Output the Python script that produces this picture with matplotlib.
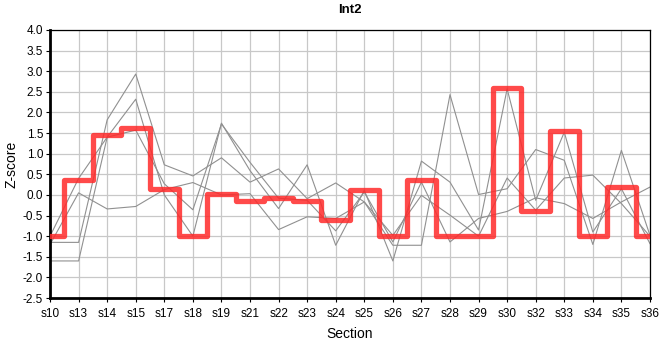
import numpy as np
import matplotlib
matplotlib.use("Agg")
import matplotlib.pyplot as plt

plt.rcParams['font.family'] = ['Liberation Sans', 'DejaVu Sans']

# Abschnitte und Z-Scores
sections = ["s10", "s13", "s14", "s15", "s17", "s18", "s19", "s21", "s22", "s23", "s24",
            "s25", "s26", "s27", "s28", "s29", "s30", "s32", "s33", "s34", "s35", "s36"]

int2 = [-1.0, 0.35, 1.45, 1.62, 0.15, -1.0, 0.02, -0.15, -0.07, -0.15, -0.6,
        0.13, -1.0, 0.37, -1.0, -1.0, 2.6, -0.38, 1.55, -1.0, 0.2, -1.0]

grey1 = [-1.15, -1.15, 1.82, 2.93, 0.73, 0.46, 0.9, 0.31, 0.63, -0.09, 0.29,
         -0.17, -1.22, -1.22, 2.43, 0.01, 0.15, 1.1, 0.84, -1.2, 1.08, -0.98]
grey2 = [-1.6, -1.6, 1.4, 2.32, 0.0, -1.0, 1.74, 0.59, -0.33, 0.73, -1.22,
         0.11, -1.6, 0.82, 0.31, -0.85, 2.57, -0.13, 1.52, -0.9, 0.15, -1.18]
grey3 = [-1.0, 0.4, 1.4, 1.57, 0.27, -0.36, 1.72, 0.79, -0.08, -0.13, -0.87,
         0.07, -1.14, 0.31, -1.14, -0.57, -0.4, -0.07, -0.21, -0.57, -0.17, 0.19]
grey4 = [-1.2, 0.05, -0.34, -0.28, 0.13, 0.3, 0.0, 0.03, -0.84, -0.53, -0.57,
         -0.17, -0.98, -0.01, -0.49, -1.0, 0.41, -0.37, 0.41, 0.48, -0.21, -1.0]

x = np.arange(len(sections))

fig = plt.figure(figsize=(6.6, 3.6), dpi=100)
ax = fig.add_axes([0.0758, 0.172, 0.909, 0.745])

for g in [grey1, grey2, grey3, grey4]:
    ax.plot(x, g, color="#909090", linewidth=0.8, zorder=2)

ax.step(x, int2, where="mid", color="#ff2a2a", alpha=0.85, linewidth=3.8,
        solid_joinstyle="round", solid_capstyle="round", zorder=3)

ax.set_xlim(0, len(sections) - 1)
ax.set_ylim(-2.5, 4.0)
ax.set_xticks(x)
ax.set_xticklabels(sections)
ax.set_yticks(np.arange(-2.5, 4.01, 0.5))
ax.set_yticklabels([f"{v:.1f}" for v in np.arange(-2.5, 4.01, 0.5)])
ax.tick_params(labelsize=8.5, length=3, width=0.8, pad=2)
ax.tick_params(axis="x", pad=4)
ax.grid(True, color="#c8c8c8", linewidth=0.9)
ax.set_axisbelow(True)

for side in ["top", "right"]:
    ax.spines[side].set_linewidth(0.9)
for side in ["left", "bottom"]:
    ax.spines[side].set_linewidth(2.0)

ax.set_xlabel("Section", fontsize=10, labelpad=5)
ax.set_ylabel("Z-score", fontsize=10, labelpad=3)
ax.set_title("Int2", fontsize=9.5, fontweight="bold", pad=12)

fig.savefig("out.png", dpi=100)
